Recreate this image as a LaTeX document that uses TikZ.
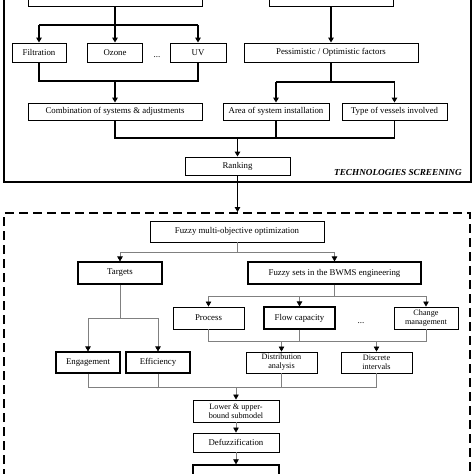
\documentclass[tikz,border=0pt]{standalone}
\usepackage{fontspec}
\setmainfont{Liberation Serif}
\usetikzlibrary{arrows.meta}
\begin{document}
\begin{tikzpicture}[x=1pt,y=-1pt,
  box/.style={draw=black, line width=0.9pt, fill=white, inner sep=1pt, align=center, font=\fontsize{8.8}{9.8}\selectfont},
  sbox/.style={box, font=\fontsize{8.2}{9}\selectfont},
  tline/.style={line width=1.2pt, black},
  tarr/.style={tline, -{Triangle[width=5.5pt,length=5pt]}},
  bline/.style={line width=0.7pt, black!50},
  barr/.style={bline, -{Triangle[width=5.5pt,length=5pt,color=black,fill=black]}},
  dots/.style={font=\fontsize{9}{10}\selectfont, inner sep=0pt},
]
\useasboundingbox (0,0) rectangle (474,474);
\clip (0,0) rectangle (474,474);
\fill[white] (0,0) rectangle (474,474);

% ---------- frames ----------
\draw[line width=2pt] (4,-20) rectangle (471,182);
\draw[line width=2.6pt, dash pattern=on 9pt off 5pt] (4,520) -- (4,213) -- (470,213) -- (470,520);
\node[font=\fontsize{9.2}{10}\selectfont\bfseries\itshape, inner sep=0pt] (title) at (398,172) {TECHNOLOGIES SCREENING};

% ---------- top section ----------
\node[box, minimum width=174pt, minimum height=22pt] (bwms) at (115,-5) {Ballast water management systems};
\node[box, minimum width=124pt, minimum height=22pt] (vsel) at (331,-5) {Vessel group selection};
\node[box, minimum width=54pt, minimum height=19pt] (filt) at (39,52.5) {Filtration};
\node[box, minimum width=55pt, minimum height=19pt] (ozone) at (115,52.5) {Ozone};
\node[dots] (d1) at (157,57) {...};
\node[box, minimum width=56pt, minimum height=19pt] (uv) at (198,52.5) {UV};
\node[box, minimum width=174pt, minimum height=19pt] (pess) at (331,52.5) {Pessimistic / Optimistic factors};
\node[box, minimum width=174pt, minimum height=17pt] (comb) at (115,111.5) {Combination of systems \& adjustments};
\node[box, minimum width=106pt, minimum height=17pt] (area) at (276,111.5) {Area of system installation};
\node[box, minimum width=105pt, minimum height=17pt] (type) at (394.5,111.5) {Type of vessels involved};
\node[box, minimum width=105pt, minimum height=18pt] (rank) at (237.5,166) {Ranking};

\coordinate (j1) at (115,25);
\draw[tline] (bwms.south) -- (j1);
\draw[tline] (filt.north |- j1) -- (uv.north |- j1);
\draw[tarr] (filt.north |- j1) -- (filt.north);
\draw[tarr] (j1) -- (ozone.north);
\draw[tarr] (uv.north |- j1) -- (uv.north);

\coordinate (j2) at (115,81);
\draw[tline] (filt.south) -- (filt.south |- j2) -- (uv.south |- j2) -- (uv.south);
\draw[tarr] (j2) -- (comb.north);

\draw[tarr] (vsel.south) -- (pess.north);
\coordinate (j3) at (331,82);
\draw[tline] (pess.south) -- (j3);
\draw[tline] (area.north |- j3) -- (type.north |- j3);
\draw[tarr] (area.north |- j3) -- (area.north);
\draw[tarr] (type.north |- j3) -- (type.north);

\coordinate (j4) at (237.5,138);
\draw[tline] (comb.south) -- (comb.south |- j4) -- (type.south |- j4) -- (type.south);
\draw[tline] (area.south) -- (area.south |- j4);
\draw[tarr] (j4) -- (rank.north);
\coordinate (rk) at (237.5,212);
\draw[tarr] (rank.south) -- (rk);

% ---------- bottom section ----------
\node[box, minimum width=174pt, minimum height=21pt] (fmo) at (237,231.5) {Fuzzy multi-objective optimization};
\node[box, line width=1.1pt, minimum width=84pt, minimum height=22pt] (targ) at (120,273) {Targets};
\node[box, line width=1.1pt, minimum width=173pt, minimum height=22pt] (fset) at (334.5,273) {Fuzzy sets in the BWMS engineering};
\node[box, minimum width=71pt, minimum height=22pt] (proc) at (208.5,318) {Process};
\node[box, line width=1.2pt, minimum width=71pt, minimum height=22pt] (flow) at (299.5,318) {Flow capacity};
\node[dots] (d2) at (361,323) {...};
\node[sbox, minimum width=64pt, minimum height=22pt] (chg) at (426,318) {Change\\management};
\node[box, line width=1.1pt, minimum width=64pt, minimum height=21pt] (eng) at (88,362.5) {Engagement};
\node[box, line width=1.1pt, minimum width=64pt, minimum height=21pt] (eff) at (158,362.5) {Efficiency};
\node[sbox, minimum width=71pt, minimum height=21pt] (dist) at (281.5,362.5) {Distribution\\analysis};
\node[sbox, minimum width=71pt, minimum height=21pt] (disc) at (376.5,362.5) {Discrete\\intervals};
\node[sbox, minimum width=86pt, minimum height=22pt] (low) at (236,411) {Lower \& upper-\\bound submodel};
\node[box, minimum width=86pt, minimum height=19pt] (defz) at (236,442.5) {Defuzzification};
\node[box, line width=1.3pt, minimum width=86pt, minimum height=30pt] (last) at (236,480) {};

\coordinate (k1) at (237,252);
\draw[bline] (fmo.south) -- (k1);
\draw[bline] (targ.north |- k1) -- (fset.north |- k1);
\draw[barr] (targ.north |- k1) -- (targ.north);
\draw[barr] (fset.north |- k1) -- (fset.north);

\coordinate (k2) at (334.5,296);
\draw[bline] (fset.south) -- (k2);
\draw[bline] (proc.north |- k2) -- (chg.north |- k2);
\draw[barr] (proc.north |- k2) -- (proc.north);
\draw[barr] (flow.north |- k2) -- (flow.north);
\draw[barr] (chg.north |- k2) -- (chg.north);

\coordinate (k3) at (120,318);
\draw[bline] (targ.south) -- (k3);
\draw[bline] (eng.north |- k3) -- (eff.north |- k3);
\draw[barr] (eng.north |- k3) -- (eng.north);
\draw[barr] (eff.north |- k3) -- (eff.north);

\coordinate (k4) at (300,341);
\draw[bline] (proc.south) -- (proc.south |- k4) -- (chg.south |- k4) -- (chg.south);
\draw[bline] (flow.south) -- (flow.south |- k4);
\draw[barr] (dist.north |- k4) -- (dist.north);
\draw[barr] (disc.north |- k4) -- (disc.north);

\coordinate (k5) at (236,387);
\draw[bline] (eng.south) -- (eng.south |- k5) -- (disc.south |- k5) -- (disc.south);
\draw[bline] (eff.south) -- (eff.south |- k5);
\draw[bline] (dist.south) -- (dist.south |- k5);
\draw[barr] (k5) -- (low.north);
\draw[barr] (low.south) -- (defz.north);
\draw[barr] (defz.south) -- (last.north);
\end{tikzpicture}
\end{document}
